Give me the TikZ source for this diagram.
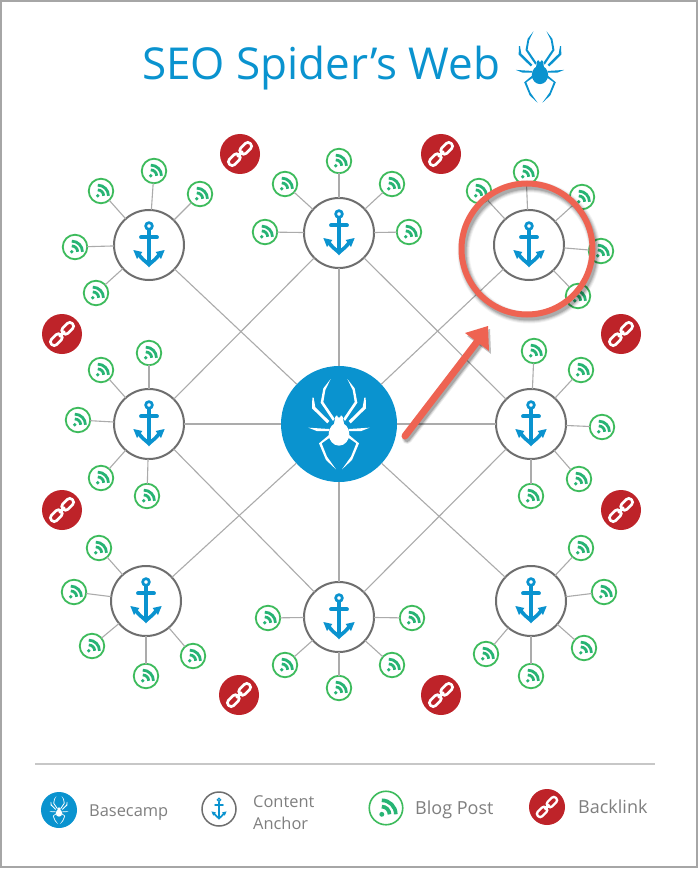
\documentclass[tikz,border=0pt]{standalone}
\usepackage{fontspec}
\setmainfont{Open Sans}
\definecolor{seoblue}{HTML}{0A93CF}
\definecolor{seored}{HTML}{BE2329}
\definecolor{seocoral}{HTML}{EE6352}
\definecolor{seogreen}{HTML}{3DBB5C}
\definecolor{seoteal}{HTML}{27B474}
\definecolor{seogray}{HTML}{6E6E6E}
\definecolor{seoline}{HTML}{ABABAB}
\definecolor{seotext}{HTML}{7F7F7F}
\tikzset{
  hubnode/.style={circle,fill=seoblue,minimum size=116pt,inner sep=0pt,outer sep=0pt},
  anchorring/.style={circle,draw=seogray,line width=2pt,fill=white,minimum size=70pt,inner sep=0pt,outer sep=0pt},
  blognode/.style={circle,draw=seogreen,line width=1.8pt,fill=white,minimum size=24.5pt,inner sep=0pt,outer sep=0pt},
  linknode/.style={circle,fill=seored,minimum size=40pt,inner sep=0pt,outer sep=0pt},
  webline/.style={draw=seoline,line width=1.1pt},
  legendsmall/.style={text=seotext,anchor=base west,inner sep=0pt,font=\fontsize{16.4}{16.4}\selectfont},
  legendlarge/.style={text=seotext,anchor=base west,inner sep=0pt,font=\fontsize{18}{18}\selectfont},
  pics/spidericon/.style n args={2}{code={
    \begin{scope}[x=#1*0.3333pt,y=-#1*0.3333pt,fill=#2]
      \foreach \m in {1,-1}{
        \begin{scope}[xscale=\m]
          \fill (-18,-9)--(-55,-64)--(-47,-107)--(-25,-135)--(-41,-102)--(-47,-66)--(-13,-16)--cycle;
          \fill (-80,-79)--(-81,-47)--(-35,-2)--(-29,-9)--(-71,-50)--(-76,-79)--cycle;
          \fill (-92,11)--(-67,21)--(-30,21)--(-30,15)--(-62,13)--cycle;
          \fill (-30,33)--(-60,58)--(-39,108)--(-9,136)--(-36,98)--(-52,58)--(-25,39)--cycle;
        \end{scope}
      }
      \fill (0,30) ellipse [x radius=31,y radius=35];
      \fill (-11,-22)--(-6,-26)--(-3,-20)--(3,-20)--(6,-26)--(11,-22)--(16,5)--(-16,5)--cycle;
    \end{scope}
  }},
  pics/anchoricon/.style={code={
    \begin{scope}[x=#1*0.3333pt,y=-#1*0.3333pt,draw=seoblue,fill=seoblue]
      \draw[line width=#1*2.7pt] (0,-57) circle [radius=10];
      \draw[line width=#1*3.3pt] (0,-46)--(0,60);
      \draw[line width=#1*3.8pt,line cap=round] (-24,-23)--(24,-23);
      \draw[line width=#1*3.6pt] (-34,24) .. controls (-22,42) and (-10,50) .. (0,58) .. controls (10,50) and (22,42) .. (34,24);
      \fill (-47,15)--(-20,21)--(-36,42)--cycle;
      \fill (47,15)--(20,21)--(36,42)--cycle;
      \fill (-14,50)--(14,50)--(0,67)--cycle;
    \end{scope}
  }},
  pics/rssicon/.style={code={
    \begin{scope}[x=#1*0.3333pt,y=#1*0.3333pt,draw=seoteal,fill=seoteal]
      \fill (-12,-18) circle [radius=7];
      \draw[line width=#1*3.5pt] (10,-18) arc [start angle=0,end angle=90,radius=22];
      \draw[line width=#1*3.5pt] (28,-18) arc [start angle=0,end angle=90,radius=40];
    \end{scope}
  }},
  pics/chainicon/.style={code={
    \begin{scope}[x=#1*0.3333pt,y=#1*0.3333pt,rotate=45]
      \draw[white,line width=#1*2.7pt,rounded corners=#1*3.3pt] (-44,-11) rectangle (-4,11);
      \draw[white,line width=#1*2.7pt,rounded corners=#1*3.3pt] (4,-11) rectangle (44,11);
      \draw[white,line width=#1*2.7pt] (-12,0)--(12,0);
    \end{scope}
  }}
}
\begin{document}
\begin{tikzpicture}[x=1pt,y=-1pt]
\useasboundingbox (0,0) rectangle (699,869);
\fill[white] (0,0) rectangle (699,869);
\draw[draw=black!35,line width=1.5pt] (1,1) rectangle (697,867);

% title
\node[anchor=base west,inner sep=0pt,text=seoblue,font=\fontsize{44}{44}\selectfont] (title) at (142,80) {SEO Spider’s Web};
\pic at (540,67) {spidericon={0.79}{seoblue}};

% hub
\node[hubnode] (hub) at (339,424) {};
\pic at (hub) {spidericon={1}{white}};

% anchors
\foreach \i/\x/\y in {1/149/245,2/339/233,3/529/245,4/149/424,5/531/424,6/146/601,7/339/617,8/531/601}{
  \node[anchorring] (a\i) at (\x,\y) {};
  \pic at (a\i) {anchoricon=1};
  \draw[webline] (hub) -- (a\i);
}
% diamond between the middle anchors
\draw[webline] (a2) -- (a4);
\draw[webline] (a2) -- (a5);
\draw[webline] (a7) -- (a4);
\draw[webline] (a7) -- (a5);

% blog posts
\foreach \a/\x/\y [count=\i] in {
  1/75/247,1/96/293,1/101/191,1/154/171,1/200/194,
  2/265/232,2/285/184,2/339/161,2/392/184,2/409/232,
  3/479/191,3/526/172,3/582/197,3/601/251,3/578/296,
  4/149/353,4/101/370,4/78/420,4/101/478,4/147/496,
  5/534/351,5/581/370,5/602/427,5/579/479,5/531/496,
  6/99/548,6/74/592,6/92/646,6/146/676,6/193/656,
  7/268/618,7/285/665,7/339/688,7/392/665,7/412/618,
  8/581/548,8/604/592,8/584/648,8/531/676,8/486/654}{
  \node[blognode] (b\i) at (\x,\y) {};
  \pic at (b\i) {rssicon=0.8};
  \draw[webline] (a\a) -- (b\i);
}

% backlinks
\foreach \x/\y [count=\i] in {240/154,441/154,62/334,621/334,62/510,621/510,239/695,441/695}{
  \node[linknode] (l\i) at (\x,\y) {};
  \pic at (l\i) {chainicon=1};
}

% highlight ring with soft shadow
\coordinate (ringc) at (527,249);
\foreach \w/\o in {12/0.05,10/0.08,8/0.10,6/0.14}{
  \draw[black,opacity=\o,line width=\w pt] ([shift={(2,3)}]ringc) circle [radius=65.5];
}
\node[circle,draw=seocoral,line width=6pt,minimum size=131pt,inner sep=0pt,outer sep=0pt] (ring) at (ringc) {};

% arrow with soft shadow
\coordinate (arrowstart) at (405,436);
\coordinate (arrowbase) at (477,342);
\coordinate (arrowtip) at (488,326);
\coordinate (arrowl) at (465,333);
\coordinate (arrowr) at (489,351);
\foreach \w/\o in {10/0.08,8/0.12,6/0.18}{
  \draw[black,opacity=\o,line width=\w pt,line cap=round] ([shift={(2,3)}]arrowstart) -- ([shift={(2,3)}]arrowbase);
}
\fill[black,opacity=0.25] ([shift={(2,3)}]arrowtip) -- ([shift={(2,3)}]arrowl) -- ([shift={(2,3)}]arrowr) -- cycle;
\draw[seocoral,line width=7pt,line cap=round] (arrowstart) -- (arrowbase);
\fill[seocoral] (arrowtip) -- (arrowl) -- (arrowr) -- cycle;

% legend
\coordinate (rulel) at (35,764);
\coordinate (ruler) at (655,764);
\draw[draw=black!22,line width=1.5pt] (rulel) -- (ruler);

\node[circle,fill=seoblue,minimum size=36pt,inner sep=0pt] (k1) at (59,810) {};
\pic at (k1) {spidericon={0.31}{white}};
\node[legendsmall] (t1) at (89,816) {Basecamp};

\node[anchorring,minimum size=34pt,line width=1.5pt] (k2) at (219,809) {};
\pic at (k2) {anchoricon=0.48};
\node[legendsmall] (t2a) at (253,807) {Content};
\node[legendsmall] (t2b) at (253,829) {Anchor};

\node[blognode,minimum size=33.5pt,line width=1.6pt] (k3) at (386,808) {};
\pic at (k3) {rssicon=1.05};
\node[legendlarge] (t3) at (415,814) {Blog Post};

\node[linknode,minimum size=36pt] (k4) at (547,807) {};
\pic at (k4) {chainicon=0.87};
\node[legendlarge] (t4) at (578,813) {Backlink};
\end{tikzpicture}
\end{document}
